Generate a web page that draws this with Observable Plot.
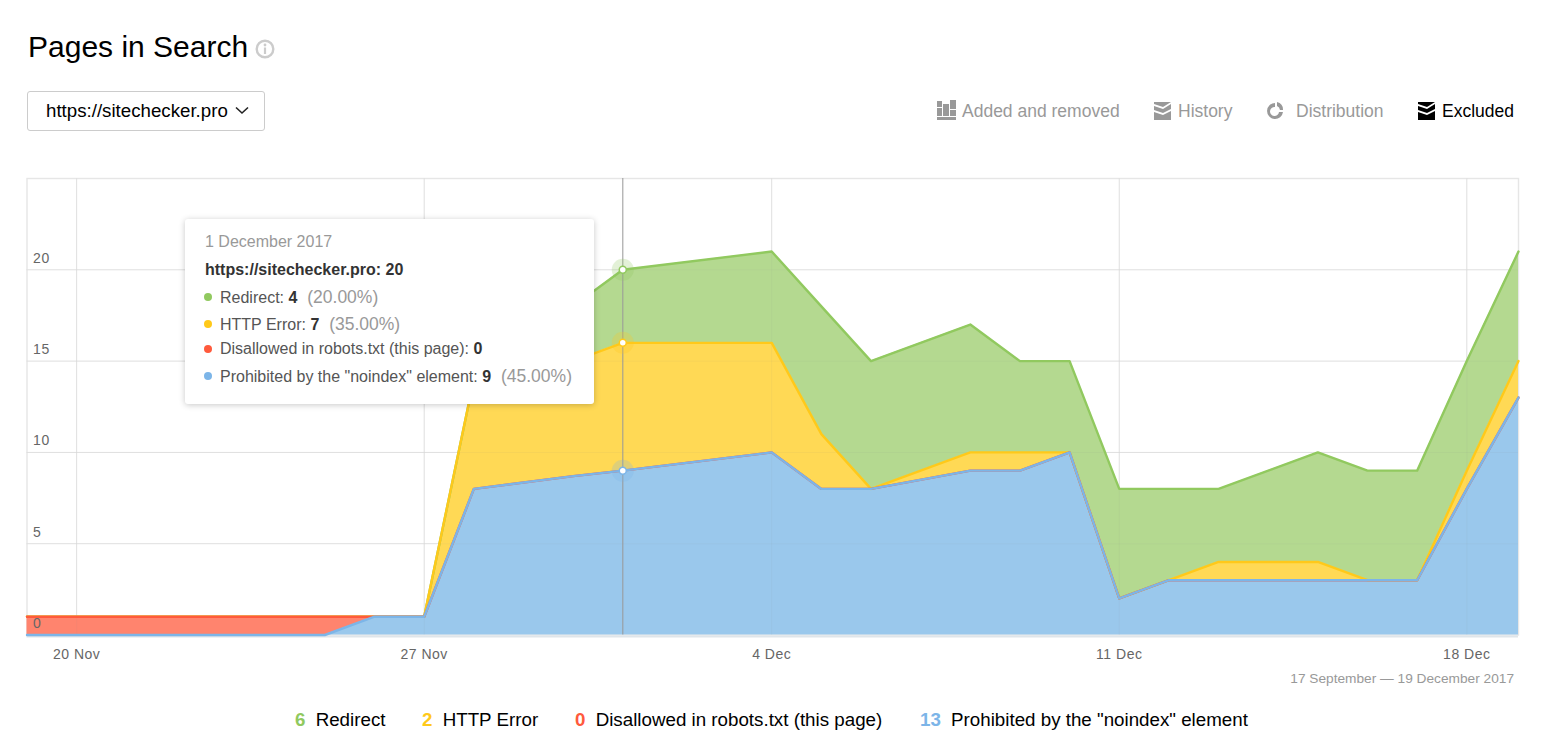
<!doctype html>
<html><head><meta charset="utf-8">
<script src="https://cdn.jsdelivr.net/npm/d3@7"></script>
<script src="https://cdn.jsdelivr.net/npm/@observablehq/plot@0.6"></script>
<style>
html,body{margin:0;padding:0;background:#fff;overflow:hidden}
body{width:1544px;height:745px;position:relative;font-family:"Liberation Sans",Arial,sans-serif;color:#000}
.abs{position:absolute;white-space:nowrap}
#title{left:28px;top:29px;font-size:30px;line-height:36px}
#select{left:27px;top:91px;width:236px;height:38px;border:1px solid #ccc;border-radius:3px;font-size:18.7px;line-height:38px;text-indent:18px}
.nav{font-size:17.5px;line-height:22px;top:100px;color:#999}
.nav svg{position:absolute;left:-25px;top:0}
#plotwrap{left:0;top:170px}
#plotwrap svg g[aria-label="x-axis tick label"] text{letter-spacing:.5px}
#plotwrap svg g[aria-label="y-axis tick label"] text{letter-spacing:.6px}
#range{right:30px;top:671px;font-size:13.7px;line-height:16px;color:#999}
.leg{top:709px;font-size:18.75px;line-height:22px}
.leg b{font-weight:bold;margin-right:5px}
#tip{left:185px;top:219px;width:409px;height:185px;background:#fff;border-radius:3px;box-shadow:0 1px 6px rgba(0,0,0,.22);color:#333}
#tip div{position:absolute;left:35px;font-size:16px;line-height:18px;white-space:nowrap;color:#555}
#tip div b{color:#333}
#tip div i{font-style:normal;color:#999;font-size:17.5px;margin-left:5px}
#tip div span{position:absolute;left:-16px;top:5px;width:8px;height:8px;border-radius:50%}
</style></head><body>
<div class="abs" id="title">Pages in Search</div>
<svg class="abs" style="left:255px;top:39px" width="20" height="20" viewBox="0 0 20 20"><circle cx="10" cy="10" r="8.3" fill="none" stroke="#ccc" stroke-width="2.4"/><circle cx="10" cy="6" r="1.4" fill="#ccc"/><rect x="8.9" y="8.5" width="2.2" height="6.5" fill="#ccc"/></svg>
<div class="abs" id="select">https://sitechecker.pro</div>
<svg class="abs" style="left:235px;top:106px" width="14" height="9" viewBox="0 0 14 9"><path d="M1 1.5 L7 7 L13 1.5" fill="none" stroke="#222" stroke-width="1.6"/></svg>

<div class="abs nav" style="left:962px"><svg width="20" height="22" viewBox="0 0 20 22" style="top:-1px"><g fill="#999"><rect x="0" y="2" width="5" height="6"/><rect x="0" y="9" width="5" height="8"/><rect x="6" y="5" width="6" height="12"/><rect x="13" y="1" width="6" height="9"/><rect x="13" y="11" width="6" height="6"/><rect x="0" y="18" width="19" height="3"/></g></svg>Added and removed</div>
<div class="abs nav" style="left:1178px"><svg width="20" height="22" viewBox="0 0 20 22"><g fill="#999"><path d="M1 2h17l-8 5-9-3z"/><path d="M1 6l9 3 8-5v5l-8 4-9-3z"/><path d="M1 12l9 3 8-4v9H1z"/></g></svg>History</div>
<div class="abs nav" style="left:1296px"><svg width="20" height="22" viewBox="0 0 20 22" style="left:-30px"><path d="M9 3a8 8 0 1 0 8 9h-4a4.5 4.5 0 1 1-4-5z M11 2a8 8 0 0 1 6 8h-3a5 5 0 0 0-3-4z" fill="#999"/></svg>Distribution</div>
<div class="abs nav" style="left:1442px;color:#000"><svg width="20" height="22" viewBox="0 0 20 22"><g fill="#000"><path d="M1 2h17l-8 5-9-3z"/><path d="M1 6l9 3 8-5v5l-8 4-9-3z"/><path d="M1 12l9 3 8-4v9H1z"/></g></svg>Excluded</div>

<div class="abs" id="plotwrap"></div>
<div class="abs" id="range">17 September — 19 December 2017</div>
<div id="legend"></div>
<div class="abs" id="tip"></div>

<script>
// Vertices
const dates = ["2017-11-19","2017-11-25","2017-11-26","2017-11-27","2017-11-28","2017-11-30","2017-12-01","2017-12-04","2017-12-05","2017-12-06","2017-12-08","2017-12-09","2017-12-10","2017-12-11","2017-12-12","2017-12-13","2017-12-15","2017-12-16","2017-12-17","2017-12-18","2017-12-19T01:00Z"];
// cumulative tops of each stacked band
const noindexTop    = [0,0,1,1,8,8.7,9,10,8,8,9,9,10,2,3,3,3,3,3,8,13];
const disallowedTop = [1,1,1,1,8,8.7,9,10,8,8,9,9,10,2,3,3,3,3,3,8,13];
const httpErrorTop  = [1,1,1,1,14,15,16,16,11,8,10,10,10,2,3,4,4,3,3,9,15];
const redirectTop   = [1,1,1,1,14,18,20,21,18,15,17,15,15,8,8,8,10,9,9,15,21];
const xTicks = ["2017-11-20","2017-11-27","2017-12-04","2017-12-11","2017-12-18"];
const yTicks = [0,5,10,15,20];
const hoverDate = "2017-12-01";
const hoverTops = [20,16,9];
const seriesNames = ["Redirect","HTTP Error","Disallowed in robots.txt (this page)","Prohibited by the \"noindex\" element"];
const seriesLine = ["#91c95f","#ffc91a","#ff5a3c","#7cb5e8"];
const seriesFill = ["#b2d88c","#ffd84f","#ff8069","#97c6eb"];
const legendCounts = [6,2,0,13];
const legendX = [295,422,575,920];
const tipValues = [4,7,0,9];
const tipPct = ["(20.00%)","(35.00%)","","(45.00%)"];

const d = dates.map(s => new Date(s));
const rows = d.map((date,i)=>({date,
  b0:0,b1:noindexTop[i],b2:disallowedTop[i],b3:httpErrorTop[i],b4:redirectTop[i]}));
const band = (lo,hi,k)=>Plot.areaY(rows,{x:"date",y1:lo,y2:hi,fill:seriesFill[k],fillOpacity:.97});
const line = (hi,k)=>Plot.line(rows,{x:"date",y:hi,stroke:seriesLine[k],strokeWidth:2.4,strokeLinejoin:"round"});
const hx = new Date(hoverDate);
const hoverRows = hoverTops.map((v,i)=>({x:hx,y:v,c:[seriesLine[0],seriesLine[1],seriesLine[3]][i]}));
const tickDates = xTicks.map(s=>new Date(s));
const axisFont = "'Liberation Sans',Arial,sans-serif";

const chart = Plot.plot({
  width:1544,height:500,
  marginLeft:26.5,marginRight:26,marginTop:8,marginBottom:35.5,
  x:{type:"utc",domain:[new Date("2017-11-19"),d[d.length-1]]},
  y:{domain:[0,25]},
  style:{background:"transparent"},
  marks:[
    Plot.frame({stroke:"#e6e6e6",strokeWidth:1.4}),
    Plot.gridX(tickDates,{stroke:"#e6e6e6",strokeOpacity:1,strokeWidth:1}),
    Plot.gridY(yTicks.slice(1),{stroke:"#e6e6e6",strokeOpacity:1,strokeWidth:1}),
    band("b0","b1",3),
    band("b1","b2",2),
    band("b2","b3",1),
    band("b3","b4",0),
    Plot.gridX(tickDates,{stroke:"#888",strokeOpacity:.07,strokeWidth:1}),
    Plot.gridY(yTicks.slice(1),{stroke:"#888",strokeOpacity:.07,strokeWidth:1}),
    Plot.ruleY([0],{stroke:"#dfe5ea",strokeWidth:2,dy:1.5}),
    line("b4",0),line("b3",1),line("b2",2),line("b1",3),
    Plot.ruleX([hx],{stroke:"#999",strokeOpacity:.85,strokeWidth:1.2}),
    Plot.dot(hoverRows,{x:"x",y:"y",r:11,fill:"c",fillOpacity:.25}),
    Plot.dot(hoverRows,{x:"x",y:"y",r:3.5,fill:"#fff",stroke:"c",strokeWidth:1.5}),
    Plot.axisX(tickDates,{tickSize:0,tickPadding:14,tickFormat:d3.utcFormat("%-d %b"),fontSize:14,fill:"#666",fontFamily:axisFont,label:null}),
    Plot.axisY(yTicks,{anchor:"left",tickSize:0,tickPadding:0,textAnchor:"start",dx:6,dy:-11.5,fontSize:14,fill:"#666",fontFamily:axisFont,label:null})
  ]
});
document.getElementById("plotwrap").appendChild(chart);

// legend
const lg = document.getElementById("legend");
seriesNames.forEach((n,i)=>{
  const e=document.createElement("div");e.className="abs leg";e.style.left=legendX[i]+"px";
  const b=document.createElement("b");b.style.color=seriesLine[i];b.textContent=legendCounts[i];
  e.appendChild(b);e.appendChild(document.createTextNode(" "+n));lg.appendChild(e);
});

// tooltip
const tip=document.getElementById("tip");
const addLine=(top)=>{const e=document.createElement("div");e.style.top=top+"px";tip.appendChild(e);return e;};
const dateLine=addLine(14);dateLine.style.left="20px";dateLine.style.color="#999";dateLine.textContent="1 December 2017";
const head=addLine(42);head.style.left="20px";head.innerHTML="<b>https://sitechecker.pro: 20</b>";
const tops=[69,96,121,148];
seriesNames.forEach((n,i)=>{
  const e=addLine(tops[i]);
  const dot=document.createElement("span");dot.style.background=seriesLine[i];e.appendChild(dot);
  e.appendChild(document.createTextNode(n+": "));
  const b=document.createElement("b");b.textContent=tipValues[i];e.appendChild(b);
  if(tipPct[i]){const p=document.createElement("i");p.textContent=" "+tipPct[i];e.appendChild(p);}
});
</script>
</body></html>
